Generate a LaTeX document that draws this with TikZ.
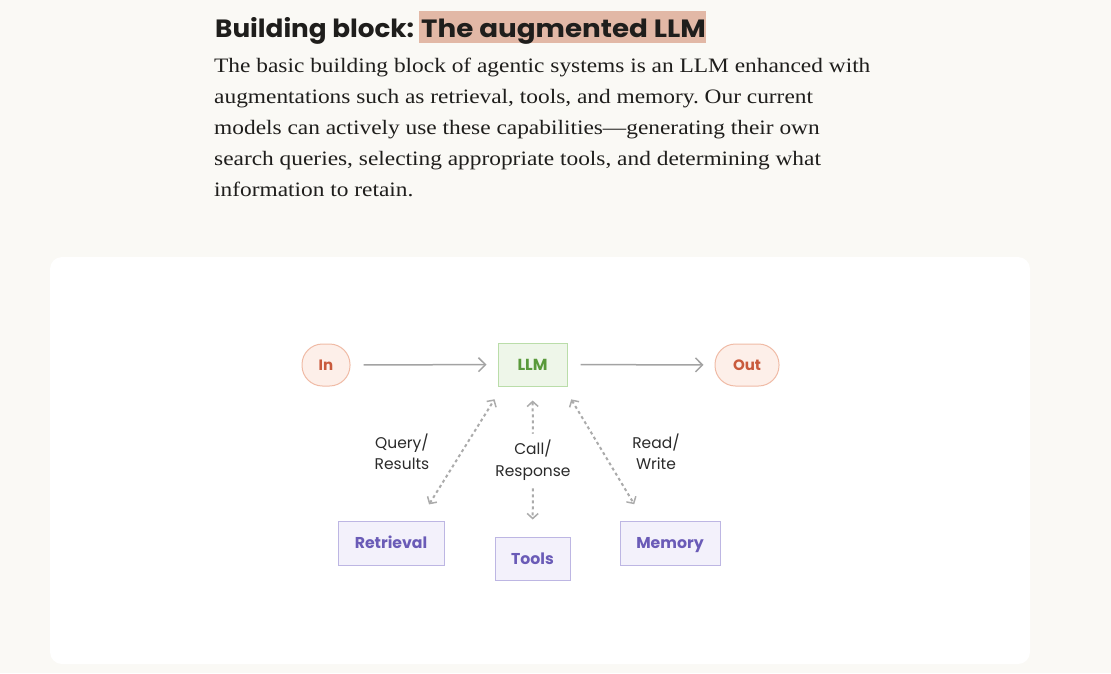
\documentclass[tikz,border=0pt]{standalone}
\usepackage{fontspec}
\setmainfont{Liberation Serif}[FakeStretch=1.14]
\setsansfont{Poppins}
\newfontfamily\headfont{Poppins}[FakeStretch=1.05]
\newfontfamily\headfontb{Poppins}[FakeStretch=1.11]
\usetikzlibrary{arrows.meta,calc}
\definecolor{bg}{HTML}{FAF9F5}
\definecolor{hl}{HTML}{E2B8A6}
\definecolor{inkfill}{HTML}{FDEFE9}
\definecolor{inkdraw}{HTML}{F0BBA6}
\definecolor{inktext}{HTML}{C95A3C}
\definecolor{llmfill}{HTML}{EEF6E9}
\definecolor{llmdraw}{HTML}{BADDA9}
\definecolor{llmtext}{HTML}{5A9A3B}
\definecolor{augfill}{HTML}{F3F1FB}
\definecolor{augdraw}{HTML}{BDB6E3}
\definecolor{augtext}{HTML}{6A5BB7}
\definecolor{arr}{HTML}{A3A3A3}
\definecolor{darr}{HTML}{ABABAB}
\definecolor{lbl}{HTML}{2B2B2B}
\definecolor{body}{HTML}{1F1E1C}
\frenchspacing
\begin{document}
\begin{tikzpicture}[x=1pt,y=-1pt,
  bodyline/.style={anchor=base west,inner sep=0pt,text=body,font=\fontsize{20.5}{24}\selectfont},
  headline/.style={anchor=base west,inner sep=0pt,text=body,font=\headfont\bfseries\fontsize{25}{29}\selectfont},
  boxtext/.style={text height=13pt,text depth=2pt},
  pill/.style={draw=inkdraw,fill=inkfill,line width=1pt,rounded corners=20.5pt,minimum height=42pt,text=inktext,font=\sffamily\bfseries\fontsize{15}{18}\selectfont,inner sep=0pt,boxtext},
  llmbox/.style={draw=llmdraw,fill=llmfill,line width=1pt,minimum width=69pt,minimum height=43pt,text=llmtext,font=\sffamily\bfseries\fontsize{16}{18}\selectfont,inner sep=0pt,boxtext},
  augbox/.style={draw=augdraw,fill=augfill,line width=1pt,minimum height=44pt,text=augtext,font=\sffamily\bfseries\fontsize{15.7}{18}\selectfont,inner sep=0pt,boxtext},
  flow/.style={draw=arr,line width=1.5pt,-{Straight Barb[length=7pt,width=14pt,line width=1.5pt]}},
  dtip/.tip={Straight Barb[length=5pt,width=11pt,line width=1.5pt]},
  dline/.style={draw=darr,line width=2pt,dash pattern=on 3pt off 3pt},
  lab/.style={text=lbl,align=center,font=\sffamily\fontsize{15.5}{21.5}\selectfont,inner sep=0pt}
]
\fill[bg] (0,0) rectangle (1111,673);
\useasboundingbox (0,0) rectangle (1111,673);
\fill[white,rounded corners=12pt] (50,257) rectangle (1030,664);

% heading
\fill[hl] (419,11) rectangle (706,43);
\node[headline] (h1) at (215,37) {Building block:};
\node[headline,font=\headfontb\bfseries\fontsize{25}{29}\selectfont] (h2) at (421,37) {The augmented LLM};

% body text
\node[bodyline] (b1) at (214,72) {The basic building block of agentic systems is an LLM enhanced with};
\node[bodyline] (b2) at (214,103) {augmentations such as retrieval, tools, and memory. Our current};
\node[bodyline] (b3) at (214,134) {models can actively use these capabilities\textemdash generating their own};
\node[bodyline] (b4) at (214,165) {search queries, selecting appropriate tools, and determining what};
\node[bodyline] (b5) at (214,196) {information to retain.};

% diagram
\node[pill,minimum width=48pt] (in) at (326,365) {In};
\node[llmbox] (llm) at (532.5,364.5) {LLM};
\node[pill,minimum width=64pt] (out) at (747,365) {Out};
\node[augbox,minimum width=106pt] (ret) at (391,543) {Retrieval};
\node[augbox,minimum width=75pt,minimum height=43pt] (tools) at (532.5,558.5) {Tools};
\node[augbox,minimum width=100pt] (mem) at (670,543) {Memory};

\node[lab] (q) at (402,452) {Query/\\Results};
\node[lab] (c) at (533,460) {Call/\\Response};
\node[lab] (r) at (656,452) {Read/\\Write};

\draw[flow,shorten <=13pt,shorten >=11pt] (in) -- (llm);
\draw[flow,shorten <=13pt,shorten >=11pt] (llm) -- (out);

\draw[dline,dtip-dtip,shorten <=19pt,shorten >=15pt] ($(ret.north)+(28,0)$) -- ($(llm.south west)+(5,0)$);
\draw[dline,dtip-,shorten <=14pt,shorten >=6pt] (llm.south) -- (c.north);
\draw[dline,-dtip,shorten <=8pt,shorten >=17pt] (c.south) -- (tools.north);
\draw[dline,dtip-dtip,shorten <=15pt,shorten >=19pt] ($(llm.south east)+(-4,0)$) -- ($(mem.north)+(-26,0)$);
\end{tikzpicture}
\end{document}
